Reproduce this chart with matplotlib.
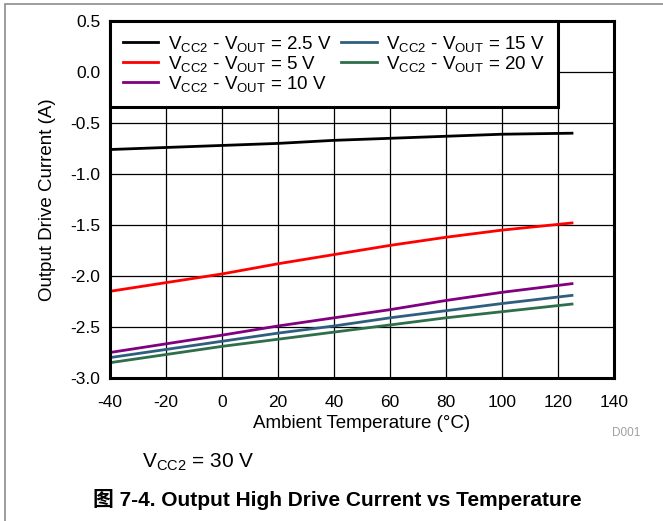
import matplotlib
matplotlib.use('Agg')
import matplotlib.pyplot as plt
from matplotlib.patches import Rectangle

plt.rcParams['font.family'] = ['Liberation Sans', 'Noto Sans CJK SC', 'DejaVu Sans']
plt.rcParams['mathtext.default'] = 'regular'
plt.rcParams['axes.unicode_minus'] = False

# data
temp = [-40, 0, 20, 40, 60, 80, 100, 125]
i_2v5 = [-0.76, -0.72, -0.70, -0.67, -0.65, -0.63, -0.61, -0.60]
i_5v = [-2.15, -1.98, -1.88, -1.79, -1.70, -1.62, -1.55, -1.48]
i_10v = [-2.75, -2.58, -2.49, -2.41, -2.33, -2.24, -2.16, -2.075]
i_15v = [-2.80, -2.64, -2.56, -2.49, -2.41, -2.34, -2.27, -2.19]
i_20v = [-2.85, -2.69, -2.62, -2.55, -2.48, -2.41, -2.35, -2.275]

series = [
    (i_2v5, 'black', '2.5 V'),
    (i_5v, '#ff0000', '5 V'),
    (i_10v, '#800080', '10 V'),
    (i_15v, '#2f5f7f', '15 V'),
    (i_20v, '#2e6e4a', '20 V'),
]

xticks = [-40, -20, 0, 20, 40, 60, 80, 100, 120, 140]
yticks = [0.5, 0.0, -0.5, -1.0, -1.5, -2.0, -2.5, -3.0]

fig = plt.figure(figsize=(6.63, 5.21), dpi=100)

# light grey page border (top + left)
fig.patches.append(Rectangle((4.5 / 663, -0.1), 1.2, 1.1 - 3.5 / 521, transform=fig.transFigure,
                             fill=False, edgecolor='#8c8c8c', linewidth=1.2))

ax = fig.add_axes([110 / 663, 1 - 378 / 521, 504 / 663, 357 / 521])
for vals, col, lab in series:
    ax.plot(temp, vals, color=col, linewidth=2,
            label=r'V$_{CC2}$ - V$_{OUT}$ = ' + lab)

ax.set_xlim(-40, 140)
ax.set_ylim(-3.0, 0.5)
ax.set_xticks(xticks)
ax.set_yticks(yticks)
ax.set_yticklabels(['%.1f' % v for v in yticks])
ax.grid(True, color='black', linewidth=0.9)
ax.tick_params(length=0, labelsize=12.5)
ax.tick_params(axis='x', pad=12)
ax.tick_params(axis='y', pad=7)
for s in ax.spines.values():
    s.set_linewidth(2.2)

ax.set_xlabel('Ambient Temperature (°C)', fontsize=13.5, labelpad=4)
ax.set_ylabel('Output Drive Current (A)', fontsize=13.5, labelpad=10)

h, l = ax.get_legend_handles_labels()
leg = ax.legend(h, l, ncol=2, loc='upper left', fontsize=13.5, frameon=True,
                fancybox=False, framealpha=1, edgecolor='black',
                borderaxespad=0, handlelength=1.9, handletextpad=0.5,
                columnspacing=0.5, labelspacing=0.0, borderpad=0.68)
leg.get_frame().set_linewidth(2.2)

fig.text(626 / 663, 1 - 433 / 521, 'D001', fontsize=8.5, color='#a0a0a0',
         ha='center', va='center')
fig.text(142 / 663, 1 - 462 / 521, r'V$_{CC2}$ = 30 V', fontsize=15,
         ha='left', va='center')
fig.text(337 / 663, 1 - 500 / 521, '图 7-4. Output High Drive Current vs Temperature',
         fontsize=15, fontweight='bold', ha='center', va='center')

fig.savefig('out.png', dpi=100)
